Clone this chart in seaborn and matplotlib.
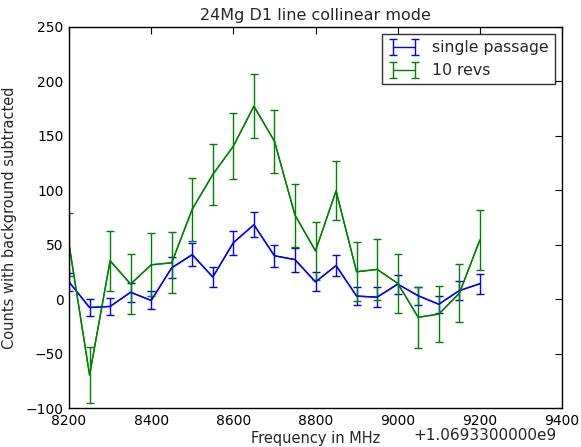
import matplotlib
matplotlib.use("Agg")
import matplotlib.pyplot as plt
import matplotlib.ticker as mticker
import seaborn as sns
import numpy as np
import pandas as pd

OFFSET = 1069330000.0
freq_rel = [8200, 8250, 8300, 8350, 8400, 8450, 8500, 8550, 8600, 8650, 8700,
            8750, 8800, 8850, 8900, 8950, 9000, 9050, 9100, 9150, 9200]

single_vals = [16, -7.5, -6.5, 6.5, -1, 29, 41, 20.5, 52, 68.5, 40,
               36.5, 16, 31, 3, 2, 14, 3.3, -4.5, 8, 14.3]
single_err = [8.6, 8, 7.7, 8.6, 8.3, 9.5, 10.3, 9.5, 11, 11.5, 10,
              11, 8.7, 10, 8.3, 8.9, 8.7, 8.4, 8, 8.4, 9]

revs_vals = [50.7, -69.5, 35.4, 14, 31.7, 33.6, 82.8, 114.6, 140.6, 177.3, 145.2,
             77.3, 44.5, 99.6, 25.3, 27.5, 14.7, -16.5, -13.5, 5.5, 54.4]
revs_err = [29, 25.6, 27.6, 27.4, 29, 27.8, 29, 28.2, 30.3, 29.5, 29,
            29, 26.5, 27, 27, 28, 27, 27.7, 25.7, 26.7, 27.2]

series_labels = ["single passage", "10 revs"]
colors = ["#0000ff", "#008000"]

sns.set_theme(style="white")
plt.rcParams["font.family"] = ["DejaVu Sans"]

fig = plt.figure(figsize=(5.81, 4.47), dpi=100)
ax = fig.add_axes([0.1188, 0.0866, 0.8485, 0.853])

freq = np.array(freq_rel, dtype=float) + OFFSET
df = pd.DataFrame({
    "freq": np.concatenate([freq, freq]),
    "val": single_vals + revs_vals,
    "series": [series_labels[0]] * len(freq) + [series_labels[1]] * len(freq),
})
sns.lineplot(data=df, x="freq", y="val", hue="series", palette=colors,
             legend=False, ax=ax, linewidth=1.0, estimator=None)

for vals, errs, lab, col in [(single_vals, single_err, series_labels[0], colors[0]),
                             (revs_vals, revs_err, series_labels[1], colors[1])]:
    ax.errorbar(freq, vals, yerr=errs, fmt="-", color=col, ecolor=col,
                elinewidth=1.0, linewidth=1.0, capsize=3, capthick=1.0, label=lab)

ax.set_xlim(OFFSET + 8200, OFFSET + 9400)
ax.set_ylim(-100, 250)
ax.xaxis.set_major_locator(mticker.FixedLocator([OFFSET + v for v in range(8200, 9401, 200)]))
ax.xaxis.set_major_formatter(mticker.FuncFormatter(lambda v, p: f"{int(round(v - OFFSET))}"))
ax.yaxis.set_major_locator(mticker.MultipleLocator(50))
ax.yaxis.set_major_formatter(mticker.FuncFormatter(lambda v, p: f"{int(v)}".replace("-", "\u2212")))

ax.tick_params(direction="in", length=5, width=0.8, top=True, right=True,
               labelsize=10, colors="black")
ax.tick_params(axis="x", pad=4)
ax.tick_params(axis="y", pad=4)
for s in ax.spines.values():
    s.set_color("black")
    s.set_linewidth(1.0)

ax.set_title("24Mg D1 line collinear mode", fontsize=11.5, pad=5)
ax.set_xlabel("Frequency in MHz", fontsize=10.5, labelpad=2)
ax.set_ylabel("Counts with background subtracted", fontsize=10.5, labelpad=6)
ax.text(0.99, -0.052, "+1.0693300000e9", transform=ax.transAxes, ha="right", va="top",
        fontsize=11)

leg = ax.legend(loc="upper right", numpoints=2, fontsize=11.3, frameon=True,
                fancybox=False, handlelength=2.0, borderaxespad=0.45)
leg.get_frame().set_edgecolor("black")
leg.get_frame().set_linewidth(1.0)

fig.savefig("out.png", dpi=100)
